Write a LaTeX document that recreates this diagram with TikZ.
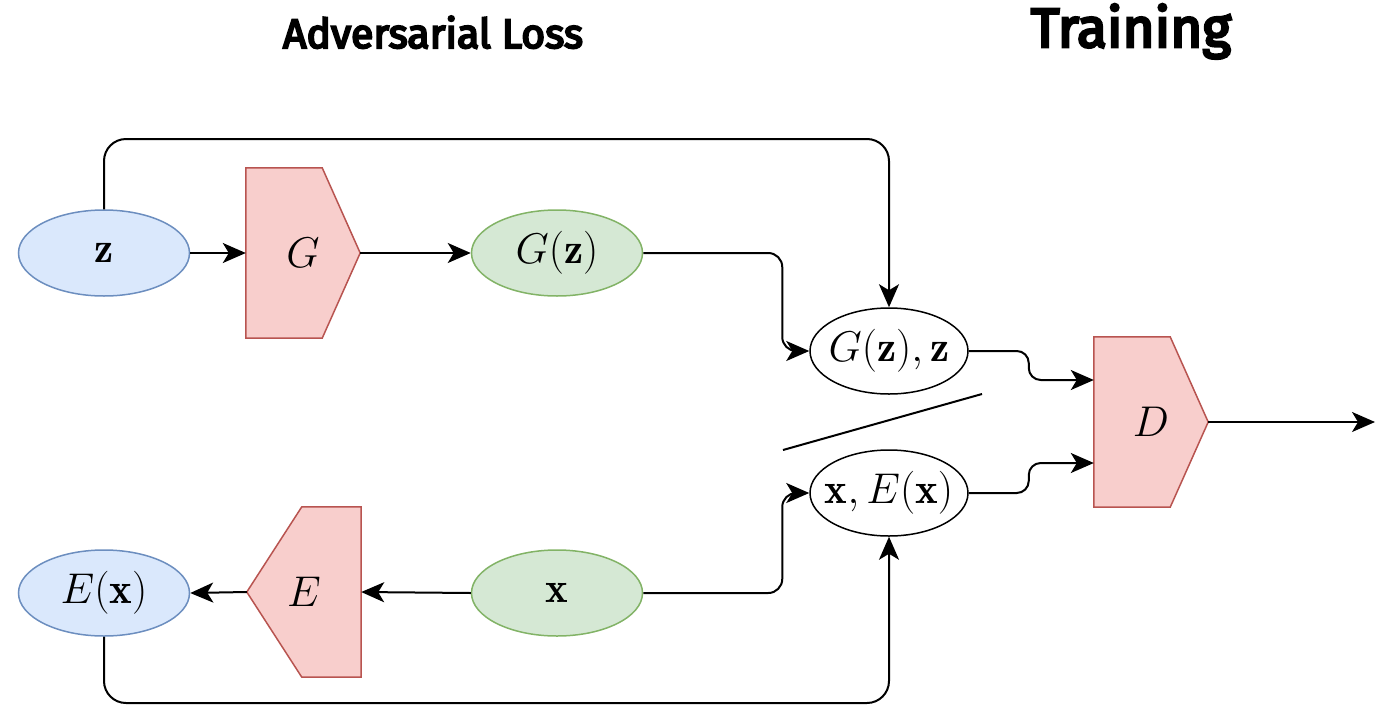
\RequirePackage{fix-cm}
\documentclass[tikz,border=0pt]{standalone}
\usepackage{fontspec}
\newfontfamily\titlefont[FakeBold=5]{Fira Sans}
\usetikzlibrary{arrows.meta,shapes.geometric,calc,backgrounds}

\definecolor{blueF}{HTML}{DAE8FC}
\definecolor{blueD}{HTML}{6C8EBF}
\definecolor{greenF}{HTML}{D5E8D4}
\definecolor{greenD}{HTML}{82B366}
\definecolor{redF}{HTML}{F8CECC}
\definecolor{redD}{HTML}{B85450}

\newcommand{\mathsz}{\fontsize{43}{49}\selectfont}
% label of zero width, so the ellipse keeps its own size
\newcommand{\lbl}[1]{\makebox[0pt]{$#1$}}

\begin{document}
\begin{tikzpicture}[x=1pt,y=-1pt,
  conn/.style={line width=2pt, draw=black},
  arr/.style={conn, -{Stealth[length=23pt,width=20pt,inset=6pt]}},
  oval/.style={ellipse, inner sep=0pt, minimum width=171pt, minimum height=86pt,
               line width=1.5pt, font=\mathsz},
  blueoval/.style={oval, draw=blueD, fill=blueF},
  greenoval/.style={oval, draw=greenD, fill=greenF},
  pairoval/.style={oval, draw=black, fill=white, minimum width=158pt, minimum height=86pt},
  blockbox/.style={rectangle, inner sep=0pt, minimum width=114pt, minimum height=170pt,
                   font=\mathsz},
  redshape/.style={draw=redD, fill=redF, line width=1.5pt, line join=miter},
  title/.style={anchor=base, inner sep=0pt}
]
\useasboundingbox (0,0) rectangle (1391,707);

% titles
\node[title, font=\titlefont\fontsize{41}{47}\selectfont] (tadv) at (433,48) {Adversarial Loss};
\node[title, font=\titlefont\fontsize{55}{62}\selectfont] (ttrain) at (1131,47) {Training};

% variables
\node[blueoval]  (z)  at (104,253) {\lbl{\mathbf{z}}};
\node[greenoval] (gz) at (557,253) {\lbl{G(\mathbf{z})}};
\node[blueoval]  (ex) at (104,593) {\lbl{E(\mathbf{x})}};
\node[greenoval] (x)  at (557,593) {\lbl{\mathbf{x}}};
\node[pairoval]  (pz) at (889,351) {\lbl{G(\mathbf{z}),\mathbf{z}}};
\node[pairoval]  (px) at (889,493) {\lbl{\mathbf{x},E(\mathbf{x})}};

% networks (pentagon blocks)
\node[blockbox] (G) at (303,253) {$G$};
\node[blockbox] (E) at (304,592) {$E$};
\node[blockbox] (D) at (1151,422) {$D$};
\begin{pgfonlayer}{background}
  \path[redshape] (G.north west) -- ($(G.north east)+(-38,0)$) -- (G.east)
    -- ($(G.south east)+(-38,0)$) -- (G.south west) -- cycle;
  \path[redshape] (D.north west) -- ($(D.north east)+(-38,0)$) -- (D.east)
    -- ($(D.south east)+(-38,0)$) -- (D.south west) -- cycle;
  \path[redshape] (E.north east) -- ($(E.north west)+(55,0)$) -- (E.west)
    -- ($(E.south west)+(55,0)$) -- (E.south east) -- cycle;
\end{pgfonlayer}

% helper coordinates
\coordinate (top) at (0,139);
\coordinate (bot) at (0,703);
\coordinate (out) at (1375,422);
\coordinate (sepA) at (783,450);
\coordinate (sepB) at (982,394);

% straight connections
\draw[arr] (z.east) -- (G.west);
\draw[arr] (G.east) -- (gz.west);
\draw[arr] (x.west) -- (E.east);
\draw[arr] (E.west) -- (ex.east);
\draw[arr] (D.east) -- (out);

% pairing connections
\draw[arr, rounded corners=14pt] (gz.east) -| ($(pz.west)+(-27,0)$) -- (pz.west);
\draw[arr, rounded corners=14pt] (x.east) -| ($(px.west)+(-27,0)$) -- (px.west);
\draw[arr, rounded corners=22pt] (z.north) |- (top -| pz.north) -- (pz.north);
\draw[arr, rounded corners=22pt] (ex.south) |- (bot -| px.south) -- (px.south);

% into the discriminator
\draw[arr, rounded corners=12pt] (pz.east) -- ++(60,0) |- ($(D.west)+(0,-42)$);
\draw[arr, rounded corners=12pt] (px.east) -- ++(60,0) |- ($(D.west)+(0,41)$);

% separator between the two pairs
\draw[conn] (sepA) -- (sepB);
\end{tikzpicture}
\end{document}
